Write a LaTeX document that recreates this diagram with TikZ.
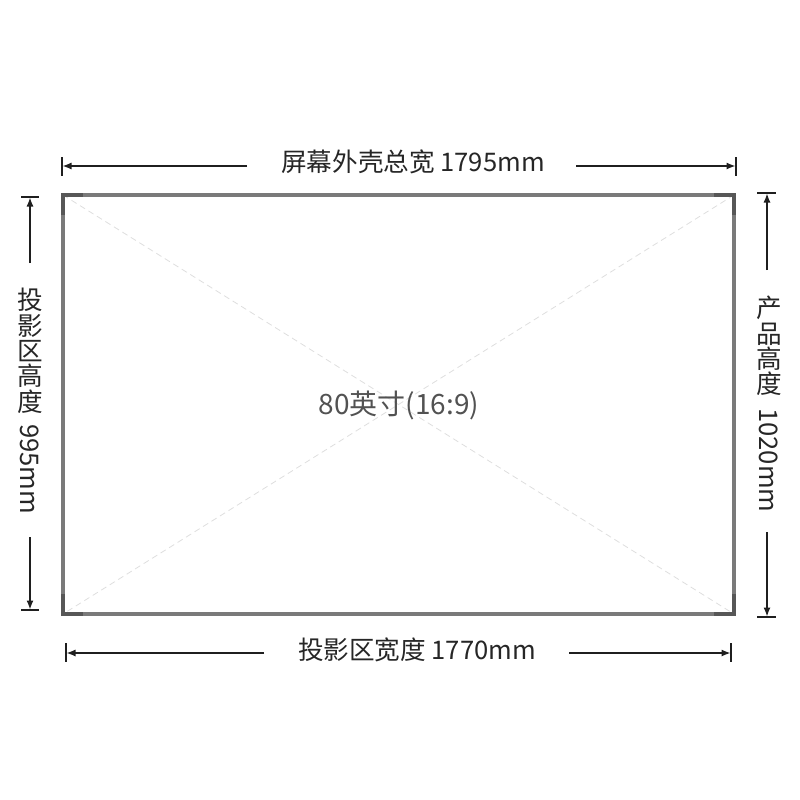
\documentclass[tikz,border=0pt]{standalone}
\usepackage{fontspec}
\setmainfont{Noto Sans CJK SC}
\usetikzlibrary{arrows.meta}
\begin{document}
\begin{tikzpicture}[x=1pt,y=-1pt,
  dimline/.style={line width=1.3pt, draw=black!88},
  dimarrow/.style={dimline, -{Latex[length=9pt,width=7pt]}},
  dimtick/.style={line width=1.3pt, draw=black!88},
  frameline/.style={line width=3.5pt, draw=black!52},
  cornerline/.style={line width=4.5pt, draw=black!66},
  diagline/.style={line width=0.8pt, draw=black!13, dash pattern=on 6pt off 4pt},
  lbl/.style={font=\fontsize{25.6}{25.4}\selectfont, text=black!85, inner sep=0pt},
  vlbl/.style={lbl, align=center},
  centerlbl/.style={font=\fontsize{28}{28}\selectfont, text=black!68, inner sep=0pt},
]
\useasboundingbox (0,0) rectangle (800,800);
% frame corners
\coordinate (tl) at (63,195);
\coordinate (tr) at (734,195);
\coordinate (bl) at (63,614);
\coordinate (br) at (734,614);
% diagonals
\draw[diagline] (tl) -- (br);
\draw[diagline] (tr) -- (bl);
% frame
\draw[frameline] (tl) rectangle (br);
% corner pieces
\coordinate (tlh) at (83,195); \coordinate (tlv) at (63,215);
\coordinate (trh) at (714,195); \coordinate (trv) at (734,215);
\coordinate (blh) at (83,614); \coordinate (blv) at (63,594);
\coordinate (brh) at (714,614); \coordinate (brv) at (734,594);
\draw[cornerline] (tlh) -- (tl) -- (tlv);
\draw[cornerline] (trh) -- (tr) -- (trv);
\draw[cornerline] (blh) -- (bl) -- (blv);
\draw[cornerline] (brh) -- (br) -- (brv);
% center label
\node[centerlbl, anchor=base] (size) at (399,414) {80英寸(16:9)};

% top dimension
\coordinate (tt1a) at (62,157); \coordinate (tt1b) at (62,176);
\coordinate (tt2a) at (736,157); \coordinate (tt2b) at (736,176);
\draw[dimtick] (tt1a) -- (tt1b);
\draw[dimtick] (tt2a) -- (tt2b);
\node[lbl, anchor=base] (toplbl) at (413,171) {屏幕外壳总宽 1795mm};
\coordinate (ta1) at (247,166); \coordinate (ta1t) at (62,166);
\coordinate (ta2) at (576,166); \coordinate (ta2t) at (736,166);
\draw[dimarrow, shorten >=0.5pt] (ta1) -- (ta1t);
\draw[dimarrow, shorten >=0.5pt] (ta2) -- (ta2t);

% bottom dimension
\coordinate (bt1a) at (66,643); \coordinate (bt1b) at (66,662);
\coordinate (bt2a) at (731,643); \coordinate (bt2b) at (731,662);
\draw[dimtick] (bt1a) -- (bt1b);
\draw[dimtick] (bt2a) -- (bt2b);
\node[lbl, anchor=base] (botlbl) at (417,659) {投影区宽度 1770mm};
\coordinate (ba1) at (264,653); \coordinate (ba1t) at (66,653);
\coordinate (ba2) at (569,653); \coordinate (ba2t) at (731,653);
\draw[dimarrow, shorten >=0.5pt] (ba1) -- (ba1t);
\draw[dimarrow, shorten >=0.5pt] (ba2) -- (ba2t);

% left dimension
\coordinate (lt1a) at (21,197); \coordinate (lt1b) at (39,197);
\coordinate (lt2a) at (21,610); \coordinate (lt2b) at (39,610);
\draw[dimtick] (lt1a) -- (lt1b);
\draw[dimtick] (lt2a) -- (lt2b);
\coordinate (la1) at (30,263); \coordinate (la1t) at (30,197);
\coordinate (la2) at (30,537); \coordinate (la2t) at (30,610);
\draw[dimarrow, shorten >=0.5pt] (la1) -- (la1t);
\draw[dimarrow, shorten >=0.5pt] (la2) -- (la2t);
\node[vlbl, anchor=north] (leftcjk) at (30,288) {投\\影\\区\\高\\度};
\node[lbl, rotate=-90, anchor=west] (leftnum) at (30,424) {995mm};

% right dimension
\coordinate (rt1a) at (757,193); \coordinate (rt1b) at (776,193);
\coordinate (rt2a) at (757,617); \coordinate (rt2b) at (776,617);
\draw[dimtick] (rt1a) -- (rt1b);
\draw[dimtick] (rt2a) -- (rt2b);
\coordinate (ra1) at (767,270); \coordinate (ra1t) at (767,193);
\coordinate (ra2) at (767,532); \coordinate (ra2t) at (767,617);
\draw[dimarrow, shorten >=0.5pt] (ra1) -- (ra1t);
\draw[dimarrow, shorten >=0.5pt] (ra2) -- (ra2t);
\node[vlbl, anchor=north] (rightcjk) at (769,296) {产\\品\\高\\度};
\node[lbl, rotate=-90, anchor=west] (rightnum) at (769,408) {1020mm};
\end{tikzpicture}
\end{document}
